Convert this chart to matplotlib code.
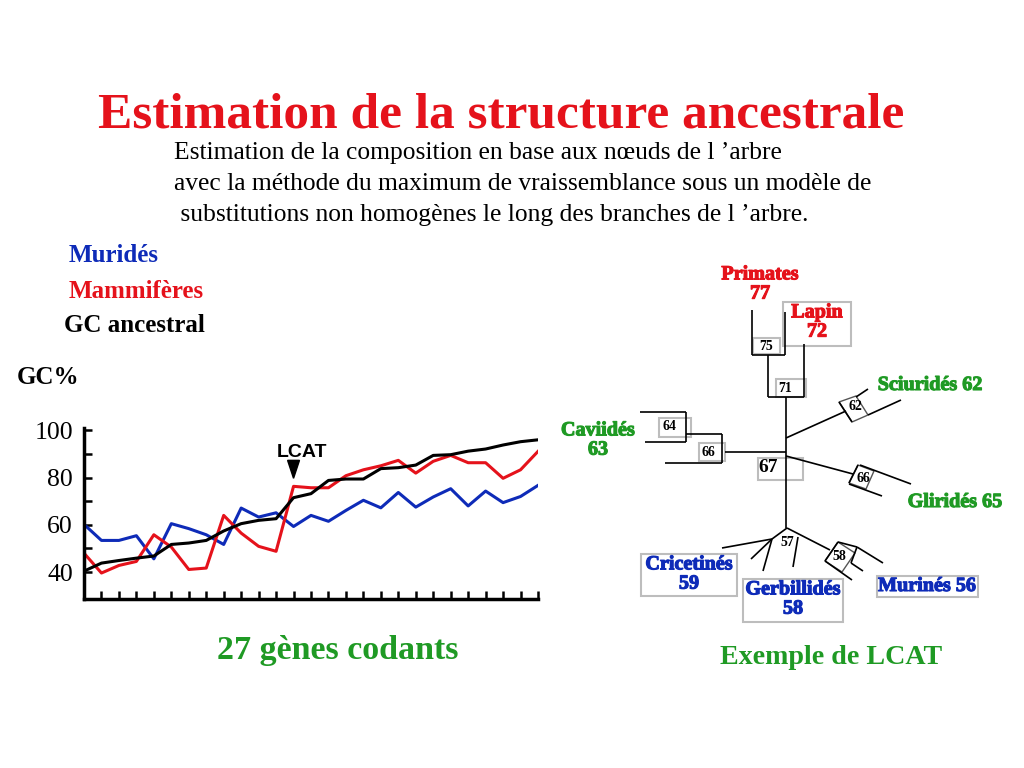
import matplotlib
matplotlib.use("Agg")
import matplotlib.pyplot as plt
import matplotlib.patheffects as pe
from matplotlib.patches import Polygon, Rectangle
import numpy as np

# valeurs (GC% pour 27 gènes)
genes = np.arange(27)
murides = [60.2, 53.4, 53.4, 55.4, 45.6, 60.5, 58.4, 55.8, 51.7, 67.1, 63.3, 65.1, 59.3, 64.0,
           61.5, 66.1, 70.4, 67.2, 73.7, 67.5, 71.8, 75.3, 68.0, 74.3, 69.4, 72.0, 76.7]
mammiferes = [48.0, 39.6, 42.8, 44.5, 55.8, 50.6, 41.1, 41.7, 64.0, 56.5, 50.9, 48.8, 76.3, 75.7,
              75.7, 80.8, 83.3, 85.0, 87.3, 81.9, 86.9, 89.4, 86.3, 86.3, 79.7, 83.3, 91.1]
gc_ancestral = [40.4, 43.8, 44.9, 45.9, 46.8, 51.7, 52.3, 53.4, 57.4, 60.5, 61.9, 62.6, 71.5, 73.2,
                78.8, 79.4, 79.4, 83.8, 84.2, 85.3, 89.4, 89.7, 91.2, 92.1, 93.8, 95.2, 96.0]
yticks = [40, 60, 80, 100]
lcat_idx = 12

RED = "#e5121b"
BLUE = "#0e2bb8"
GREEN = "#1f9a24"
GRAY = "#bdbdbd"
SERIF = ["Liberation Serif", "DejaVu Serif"]

fig = plt.figure(figsize=(10.24, 7.68), dpi=100)
fig.patch.set_facecolor("white")

# calque plein écran en pixels pour textes et arbre
bg = fig.add_axes([0, 0, 1, 1])
bg.set_xlim(0, 1024)
bg.set_ylim(768, 0)
bg.axis("off")

bg.text(501, 115, "Estimation de la structure ancestrale", color=RED, fontsize=37,
        fontweight="bold", family=SERIF, ha="center", va="center")
sub = ["Estimation de la composition en base aux nœuds de l \u2019arbre",
       "avec la méthode du maximum de vraissemblance sous un modèle de",
       " substitutions non homogènes le long des branches de l \u2019arbre."]
for i, s in enumerate(sub):
    bg.text(174, 153 + i * 31, s, fontsize=18.4, family=SERIF, ha="left", va="center")

bg.text(69, 256, "Muridés", color=BLUE, fontsize=18, fontweight="bold", family=SERIF, va="center")
bg.text(69, 292, "Mammifères", color=RED, fontsize=18, fontweight="bold", family=SERIF, va="center")
bg.text(64, 326, "GC ancestral", color="black", fontsize=18, fontweight="bold", family=SERIF, va="center")
bg.text(17, 378, "GC%", color="black", fontsize=18, fontweight="bold", family=SERIF, va="center")
bg.text(338, 651, "27 gènes codants", color=GREEN, fontsize=24.5, fontweight="bold", family=SERIF,
        ha="center", va="center")
bg.text(831, 657, "Exemple de LCAT", color=GREEN, fontsize=20.2, fontweight="bold", family=SERIF,
        ha="center", va="center")

# --- arbre (coordonnées en pixels) ---
branches = [
    ((752, 310), (752, 355)), ((752, 355), (785, 355)), ((785, 312), (785, 355)),
    ((768, 355), (768, 397)), ((804, 344), (804, 397)), ((768, 397), (804, 397)),
    ((786, 397), (786, 528)),
    # Sciuridés
    ((786, 438), (846, 411)), ((839, 402), (852, 422)), ((856, 397), (868, 389)),
    ((868, 415), (901, 400)),
    # Caviidés
    ((786, 452), (725, 452)), ((722, 434), (722, 463)), ((665, 463), (722, 463)),
    ((686, 434), (722, 434)), ((686, 412), (686, 442)), ((640, 412), (686, 412)),
    ((645, 442), (686, 442)),
    # Gliridés
    ((786, 456), (853, 474)), ((858, 465), (849, 483)), ((860, 465), (911, 484)),
    ((849, 484), (882, 496)),
    # rongeurs muroïdes
    ((787, 528), (772, 539)), ((772, 539), (722, 548)), ((772, 539), (751, 559)),
    ((772, 539), (763, 571)), ((787, 528), (830, 550)), ((798, 537), (793, 567)),
    ((838, 542), (825, 561)), ((825, 561), (852, 580)), ((838, 542), (857, 547)),
    ((857, 547), (851, 563)), ((857, 547), (883, 563)), ((851, 563), (863, 571)),
]
for (x0, y0), (x1, y1) in branches:
    bg.plot([x0, x1], [y0, y1], color="black", lw=1.2, solid_capstyle="butt")

boxes = [(753, 338, 27, 16), (783, 302, 68, 44), (776, 379, 30, 18), (659, 418, 32, 19),
         (699, 443, 26, 18), (758, 458, 45, 22), (641, 554, 96, 42), (743, 579, 100, 43),
         (877, 576, 101, 21)]
for x, y, w, h in boxes:
    bg.add_patch(Rectangle((x, y), w, h, fill=False, ec=GRAY, lw=1.5))
rot_boxes = [[(839, 402), (852, 422), (868, 415), (856, 396)],
             [(858, 465), (849, 483), (866, 489), (874, 471)],
             [(838, 542), (825, 561), (842, 572), (855, 553)]]
for pts in rot_boxes:
    bg.add_patch(Polygon(pts, closed=True, fill=False, ec="#555555", lw=1.0))

nodes = [("75", 766, 346, 10), ("71", 785, 388, 10), ("64", 669, 427, 10), ("66", 708, 452, 10),
         ("67", 768, 468, 14), ("62", 855, 406, 10), ("66", 863, 478, 10), ("57", 787, 543, 10),
         ("58", 839, 557, 10)]
for t, x, y, fs in nodes:
    bg.text(x, y, t, fontsize=fs, fontweight="bold", family=SERIF, ha="center", va="center")

leaves = [("Primates\n77", 760, 284, RED), ("Lapin\n72", 817, 322, RED),
          ("Sciuridés 62", 930, 385, GREEN), ("Caviidés\n63", 598, 440, GREEN),
          ("Gliridés 65", 955, 502, GREEN), ("Cricetinés\n59", 689, 574, BLUE),
          ("Gerbillidés\n58", 793, 599, BLUE), ("Murinés 56", 927, 586, BLUE)]
for t, x, y, c in leaves:
    bg.text(x, y, t, color=c, fontsize=14.5, fontweight="bold", family=SERIF, ha="center",
            va="center", linespacing=0.95,
            path_effects=[pe.withStroke(linewidth=0.8, foreground=c)])

# --- courbes GC% ---
ax = fig.add_axes([84 / 1024, 1 - 599 / 768, 454 / 1024, 171 / 768])
ax.plot(genes, murides, color=BLUE, lw=2.2)
ax.plot(genes, mammiferes, color=RED, lw=2.2)
ax.plot(genes, gc_ancestral, color="black", lw=2.2)
ax.set_xlim(0, 26)
ax.set_ylim(28.6, 101)
ax.set_xticks(genes)
ax.set_xticklabels([])
ax.set_yticks(np.arange(40, 101, 10))
ax.set_yticklabels([str(v) if v in yticks else "" for v in range(40, 101, 10)],
                   family=SERIF, fontsize=18.5)
ax.tick_params(axis="both", direction="in", length=6, width=1.8, pad=8)
for s in ["top", "right"]:
    ax.spines[s].set_visible(False)
for s in ["left", "bottom"]:
    ax.spines[s].set_linewidth(2.5)
ax.set_facecolor("none")

ax.add_patch(Polygon([(lcat_idx - 0.34, 87.3), (lcat_idx + 0.34, 87.3), (lcat_idx, 79.7)],
                     closed=True, color="black"))
ax.text(lcat_idx + 0.5, 90.7, "LCAT", fontsize=14, fontweight="bold", family="Liberation Sans",
        ha="center", va="center")

fig.savefig("out.png", dpi=100)
